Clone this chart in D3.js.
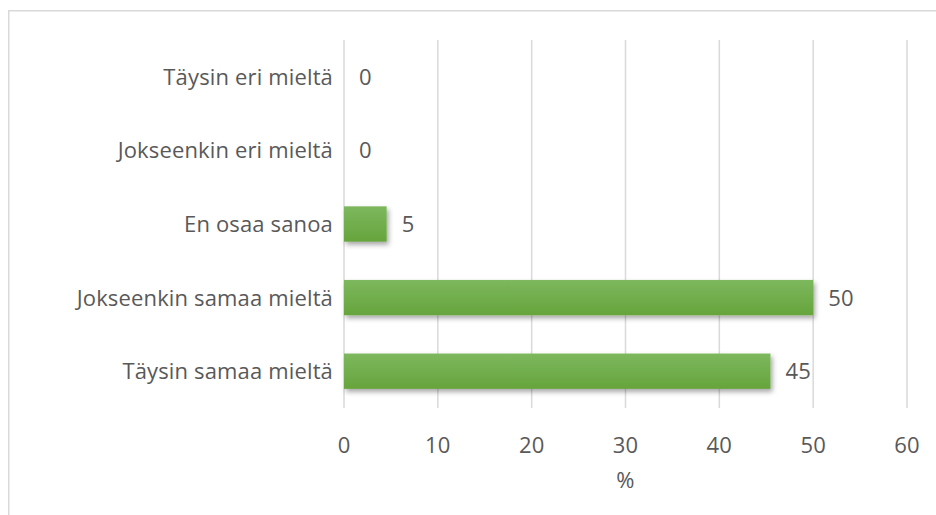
<!DOCTYPE html>
<html><head><meta charset="utf-8">
<script src="https://cdn.jsdelivr.net/npm/d3@7"></script>
<style>
html,body{margin:0;padding:0;background:#fff;}
svg text{font-family:"Open Sans",sans-serif;fill:#595959;letter-spacing:0.15px;}
</style></head>
<body><svg id="c" width="936" height="515"></svg>
<script>
const categories = ["Täysin eri mieltä","Jokseenkin eri mieltä","En osaa sanoa","Jokseenkin samaa mieltä","Täysin samaa mieltä"];
const values = [0, 0, 4.545, 50, 45.45];
const labels = ["0","0","5","50","45"];
const ticks = [0,10,20,30,40,50,60];
const axisTitle = "%";

const FS = 22;
const svg = d3.select("#c");
const defs = svg.append("defs");
const g1 = defs.append("linearGradient").attr("id","gr").attr("x1",0).attr("y1",0).attr("x2",0).attr("y2",1);
g1.append("stop").attr("offset","0%").attr("stop-color","#7db85e");
g1.append("stop").attr("offset","100%").attr("stop-color","#66a43c");
const f = defs.append("filter").attr("id","sh").attr("x","-10%").attr("y","-20%").attr("width","130%").attr("height","160%");
f.append("feDropShadow").attr("dx",2).attr("dy",3).attr("stdDeviation",2.5).attr("flood-color","#000").attr("flood-opacity",0.35);

// outer border
svg.append("rect").attr("x",8.75).attr("y",10.75).attr("width",940).attr("height",520)
  .attr("fill","none").attr("stroke","#d9d9d9").attr("stroke-width",1.5);

const x = d3.scaleLinear().domain([0,60]).range([344,907]);
const y = d3.scaleBand().domain(categories).range([40,408]).paddingInner(0.52).paddingOuter(0.26);

svg.append("g").selectAll("line").data(ticks).join("line")
  .attr("x1",d=>x(d)).attr("x2",d=>x(d)).attr("y1",40).attr("y2",408)
  .attr("stroke","#d9d9d9").attr("stroke-width",1.5);

svg.append("g").selectAll("text").data(ticks).join("text")
  .attr("x",d=>x(d)).attr("y",453).attr("text-anchor","middle").attr("font-size",FS).text(d=>d);

svg.append("text").attr("x",x(30)).attr("y",488).attr("text-anchor","middle").attr("font-size",FS).text(axisTitle);

const bandC = d => y(d) + y.bandwidth()/2;

svg.append("g").selectAll("text").data(categories).join("text")
  .attr("x",333).attr("y",d=>bandC(d)).attr("dy","0.36em").attr("text-anchor","end").attr("font-size",FS).text(d=>d);

svg.append("g").selectAll("rect").data(values.map((v,i)=>({v,c:categories[i]})).filter(d=>d.v>0)).join("rect")
  .attr("x",x(0)).attr("y",d=>y(d.c)).attr("width",d=>x(d.v)-x(0)).attr("height",y.bandwidth())
  .attr("fill","url(#gr)").attr("filter","url(#sh)");

svg.append("g").selectAll("text").data(values.map((v,i)=>({v,c:categories[i],l:labels[i]}))).join("text")
  .attr("x",d=>x(d.v)+15).attr("y",d=>bandC(d.c)).attr("dy","0.36em").attr("font-size",FS).text(d=>d.l);
</script></body></html>
